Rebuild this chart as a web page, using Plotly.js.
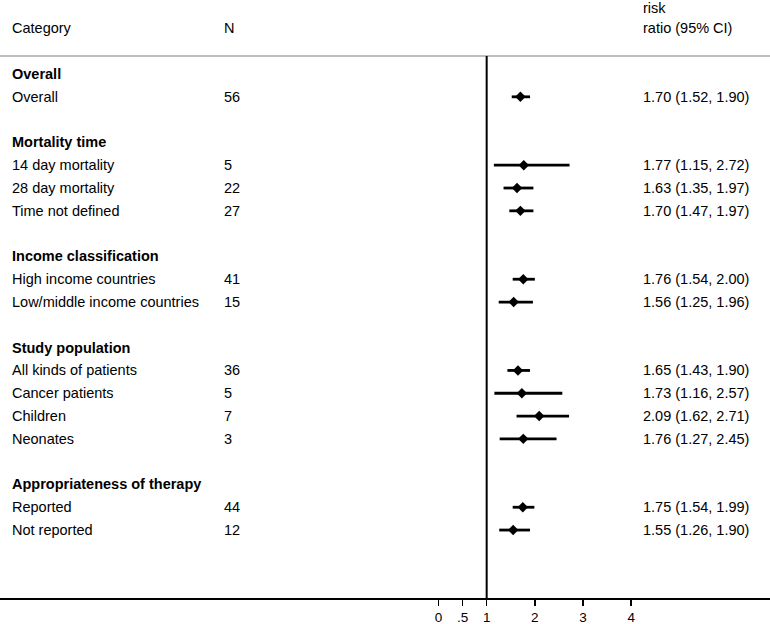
<!DOCTYPE html>
<html>
<head>
<meta charset="utf-8">
<script src="https://cdn.plot.ly/plotly-3.0.1.min.js"></script>
<style>html,body{margin:0;padding:0;background:#fff;}#chart{width:770px;height:624px;}</style>
</head>
<body>
<div id="chart"></div>
<script>
// ---- data ----
const groupNames = ["Overall", "Mortality time", "Income classification", "Study population", "Appropriateness of therapy"];
const groupSizes = [1, 3, 2, 4, 2];
const subgroups = ["Overall", "14 day mortality", "28 day mortality", "Time not defined",
  "High income countries", "Low/middle income countries",
  "All kinds of patients", "Cancer patients", "Children", "Neonates",
  "Reported", "Not reported"];
const nStudies = [56, 5, 22, 27, 41, 15, 36, 5, 7, 3, 44, 12];
const riskRatio = [1.70, 1.77, 1.63, 1.70, 1.76, 1.56, 1.65, 1.73, 2.09, 1.76, 1.75, 1.55];
const ciLower = [1.52, 1.15, 1.35, 1.47, 1.54, 1.25, 1.43, 1.16, 1.62, 1.27, 1.54, 1.26];
const ciUpper = [1.90, 2.72, 1.97, 1.97, 2.00, 1.96, 1.90, 2.57, 2.71, 2.45, 1.99, 1.90];
const tickVals = [0, 0.5, 1, 2, 3, 4];
const tickText = ["0", ".5", "1", "2", "3", "4"];
const headerCat = "Category";
const headerN = "N";
const headerRR = ["risk", "ratio (95% CI)"];

// ---- layout rows ----
const rowY = [];       // row index of each subgroup
const headY = [];      // row index of each group header
let r = 0;
groupNames.forEach((g, gi) => {
  headY.push(r); r++;
  for (let j = 0; j < groupSizes[gi]; j++) { rowY.push(r); r++; }
  r++; // blank row
});

const font = {family: "Liberation Sans, Arial, sans-serif", size: 14.5, color: "#000"};
const colCat = 10 / 770, colN = 222 / 770, colRR = 641 / 770;

const ann = [];
function addText(x, y, text, bold) {
  ann.push({xref: "paper", yref: "y", x: x, y: y, text: bold ? "<b>" + text + "</b>" : text,
    showarrow: false, xanchor: "left", yanchor: "middle", font: font});
}
addText(colCat, -2, headerCat);
addText(colN, -2, headerN);
addText(colRR, -2.9, headerRR[0]);
addText(colRR, -2, headerRR[1]);
groupNames.forEach((g, i) => addText(colCat, headY[i], g, true));
subgroups.forEach((s, i) => {
  addText(colCat, rowY[i], s);
  addText(colN, rowY[i], String(nStudies[i]));
  addText(colRR, rowY[i], riskRatio[i].toFixed(2) + " (" + ciLower[i].toFixed(2) + ", " + ciUpper[i].toFixed(2) + ")");
});

const trace = {
  type: "scatter", mode: "markers",
  x: riskRatio, y: rowY,
  marker: {symbol: "diamond", size: 8, color: "#000"},
  error_x: {type: "data", symmetric: false,
    array: riskRatio.map((v, i) => ciUpper[i] - v),
    arrayminus: riskRatio.map((v, i) => v - ciLower[i]),
    width: 0, thickness: 2.8, color: "#000"},
  hoverinfo: "skip", showlegend: false
};

const layout = {
  width: 770, height: 624,
  margin: {l: 0, r: 0, t: 0, b: 26, pad: 0},
  paper_bgcolor: "#fff", plot_bgcolor: "#fff",
  xaxis: {range: [-9.10, 6.88], tickvals: tickVals, ticktext: tickText,
    showgrid: false, zeroline: false, showline: true, linecolor: "#000", linewidth: 1.5,
    ticks: "outside", ticklen: 6, tickwidth: 1.5, tickcolor: "#000",
    tickfont: {family: "Liberation Sans, Arial, sans-serif", size: 13.5, color: "#000"}, fixedrange: true},
  yaxis: {range: [22.98, -3.246], visible: false, showgrid: false, zeroline: false, fixedrange: true},
  shapes: [
    {type: "line", xref: "paper", yref: "y", x0: 0, x1: 1, y0: -0.79, y1: -0.79,
      line: {color: "#bdbdbd", width: 2}},
    {type: "line", xref: "x", yref: "y", x0: 1, x1: 1, y0: -0.79, y1: 22.98,
      line: {color: "#000", width: 2}}
  ],
  annotations: ann
};

Plotly.newPlot("chart", [trace], layout, {displayModeBar: false, staticPlot: true});
</script>
</body>
</html>
